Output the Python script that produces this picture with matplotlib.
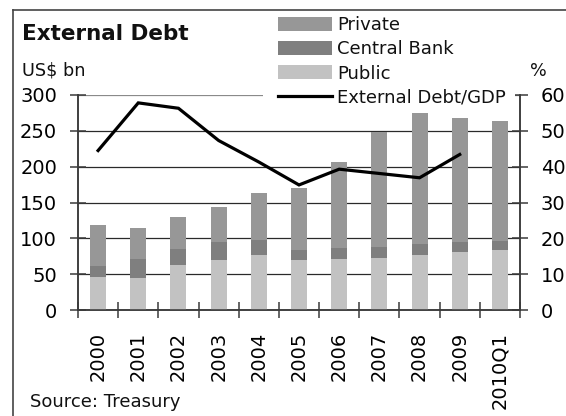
# External debt chart: stacked bars (US$ bn, left axis) with debt/GDP ratio (%, right axis).
import numpy as np
import matplotlib
matplotlib.use("Agg")
import matplotlib.pyplot as plt
from matplotlib.lines import Line2D
from matplotlib.patches import Rectangle

W, H = 566, 416

years = ["2000", "2001", "2002", "2003", "2004", "2005",
         "2006", "2007", "2008", "2009", "2010Q1"]
public = [46, 44.5, 63, 70, 77, 70, 71, 73, 77, 81, 84]
central_bank = [16, 26, 22, 25, 20, 14, 15, 15, 15, 14, 12]
private = [57, 44, 45, 48.5, 66, 86, 121, 161, 183, 173, 168]
debt_gdp = [44.5, 57.8, 56.3, 47.3, 41.3, 34.9, 39.3, 38.1, 36.9, 43.4]

PRIVATE_C = "#979797"
CB_C = "#7f7f7f"
PUBLIC_C = "#c2c2c2"
TEXT_C = "#111111"
AXIS_C = "#3a3a3a"

plt.rcParams["font.family"] = "DejaVu Sans"
plt.rcParams["text.color"] = TEXT_C


def fx(px):
    return px / W


def fy(py):
    return 1 - py / H


fig = plt.figure(figsize=(W / 100, H / 100), dpi=100)
ax = fig.add_axes([fx(78), fy(310), fx(520 - 78), (310 - 95) / H])
ax2 = ax.twinx()

x = np.arange(len(years))
bottom_cb = np.array(public)
bottom_pr = bottom_cb + np.array(central_bank)
b_pub = ax.bar(x, public, width=0.4, color=PUBLIC_C, zorder=3)
b_cb = ax.bar(x, central_bank, width=0.4, bottom=bottom_cb, color=CB_C, zorder=3)
b_pr = ax.bar(x, private, width=0.4, bottom=bottom_pr, color=PRIVATE_C, zorder=3)

(ln,) = ax2.plot(x[:len(debt_gdp)], debt_gdp, color="black", lw=2.3,
                 solid_joinstyle="miter")

ax.set_xlim(-0.5, len(years) - 0.5)
ax.set_ylim(0, 300)
ax2.set_ylim(0, 60)
ax.set_yticks(np.arange(0, 301, 50))
ax2.set_yticks(np.arange(0, 61, 10))

# boundary ticks between categories, labels at the centres
ax.set_xticks(np.arange(-0.5, len(years), 1))
ax.set_xticklabels([])
ax.set_xticks(x, minor=True)
ax.set_xticklabels(years, minor=True, rotation=90)
ax.tick_params(axis="x", which="minor", length=0, pad=15.5, labelsize=14)
ax.tick_params(axis="x", which="major", direction="inout", length=11,
               width=1.1, color=AXIS_C)
ax.tick_params(axis="y", direction="inout", length=11, width=1.1,
               color=AXIS_C, pad=9.5, labelsize=14)
ax2.tick_params(axis="y", direction="inout", length=11, width=1.1,
                color=AXIS_C, pad=9.5, labelsize=14)

ax.yaxis.grid(True, color="#2a2a2a", lw=0.9, zorder=0)
ax.set_axisbelow(True)
ax.get_ygridlines()[-1].set_color("#8a8a8a")

for a in (ax, ax2):
    a.spines["top"].set_visible(False)
    for s in ("left", "right", "bottom"):
        a.spines[s].set_color(AXIS_C)
        a.spines[s].set_linewidth(1.1)
ax.set_facecolor("none")

# white block behind the legend, over the top of the plot
fig.add_artist(Rectangle((fx(263), fy(108)), fx(515 - 263), (108 - 12) / H,
                         transform=fig.transFigure, facecolor="white",
                         edgecolor="none", zorder=1))

fig.legend([b_pr, b_cb, b_pub, ln],
           ["Private", "Central Bank", "Public", "External Debt/GDP"],
           loc="upper left", bbox_to_anchor=(fx(278), fy(16)),
           frameon=False, fontsize=13, handlelength=3.0, handleheight=0.8,
           handletextpad=0.28, labelspacing=0.35, borderpad=0,
           borderaxespad=0)

fig.text(fx(22), fy(40), "External Debt", fontsize=15.5, fontweight="bold",
         va="baseline")
fig.text(fx(22), fy(76), "US$ bn", fontsize=12.7, va="baseline")
fig.text(fx(530), fy(76), "%", fontsize=12.7, va="baseline")
fig.text(fx(30), fy(407), "Source: Treasury", fontsize=13, va="baseline")

# chart border (cropped on the right and bottom)
fig.add_artist(Line2D([fx(13), 1], [fy(10), fy(10)], color="#444444",
                      lw=1.2, zorder=10))
fig.add_artist(Line2D([fx(13), fx(13)], [fy(10), 0], color="#444444",
                      lw=1.2, zorder=10))

fig.savefig("out.png", dpi=100)
